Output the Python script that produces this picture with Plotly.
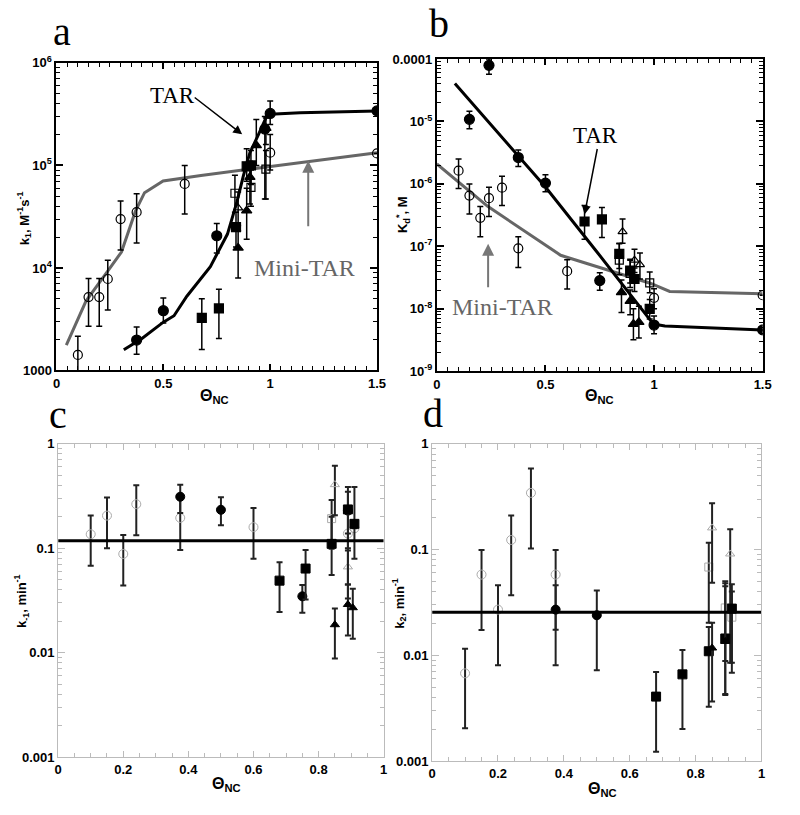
import plotly.graph_objects as go
import numpy as np

# ---------------- Panel a : k1 (M^-1 s^-1) ----------------
a_oc_x = [0.10, 0.15, 0.20, 0.24, 0.30, 0.375, 0.60, 1.00, 1.50]
a_oc_y = [1420, 5200, 5200, 7800, 30000, 35000, 66000, 133000, 131000]
a_oc_hi = [2160, 7900, 7900, 11900, 45000, 53000, 100000, 200000, 131000]
a_oc_lo = [950, 2700, 2700, 3900, 15000, 17500, 33500, 90000, 131000]

a_os_x = [0.835, 0.91, 0.98]
a_os_y = [53500, 61000, 92000]
a_os_hi = [80000, 90000, 140000]
a_os_lo = [35000, 40000, 47000]

a_ot_x = [0.85]
a_ot_y = [38500]
a_ot_hi = [55000]
a_ot_lo = [26000]

a_fc_x = [0.375, 0.50, 0.75, 0.975, 1.00, 1.50]
a_fc_y = [1980, 3830, 20600, 226000, 321000, 340000]
a_fc_hi = [2650, 5080, 27200, 300000, 425000, 340000]
a_fc_lo = [1440, 2910, 14000, 47000, 250000, 340000]

a_fs_x = [0.68, 0.76, 0.84, 0.89, 0.91]
a_fs_y = [3260, 4030, 25000, 98000, 100000]
a_fs_hi = [5000, 6200, 35000, 145000, 140000]
a_fs_lo = [1600, 2050, 16000, 70000, 65000]

a_ft_x = [0.85, 0.89, 0.905, 0.935, 0.98]
a_ft_y = [15700, 36200, 77000, 157000, 231000]
a_ft_hi = [23000, 60000, 110000, 280000, 290000]
a_ft_lo = [8000, 19000, 42000, 100000, 160000]

a_tar_x = [0.315, 0.40, 0.50, 0.55, 0.61, 0.72, 0.80, 0.845, 0.875, 0.905, 0.945, 0.98, 1.00, 1.14, 1.50]
a_tar_y = [1590, 2050, 2960, 3420, 5300, 10300, 21400, 44500, 80000, 133000, 200000, 290000, 316000, 326000, 340000]
a_mini_x = [0.046, 0.138, 0.243, 0.304, 0.369, 0.412, 0.499, 0.676, 0.983, 1.50]
a_mini_y = [1770, 4750, 9550, 14300, 35600, 54200, 70500, 79800, 96500, 133000]

# ---------------- Panel b : Kd* (M) ----------------
b_fc_x = [0.15, 0.24, 0.375, 0.50, 0.75, 1.00, 1.50]
b_fc_y = [1.08e-5, 7.9e-5, 2.64e-6, 1.03e-6, 2.83e-8, 5.5e-9, 4.6e-9]
b_fc_hi = [1.46e-5, 1.0e-4, 3.48e-6, 1.4e-6, 3.78e-8, 7.7e-9, 4.6e-9]
b_fc_lo = [7.6e-6, 5.7e-5, 1.89e-6, 7.5e-7, 1.98e-8, 4.0e-9, 4.6e-9]

b_fs_x = [0.68, 0.76, 0.84, 0.89, 0.91, 0.98]
b_fs_y = [2.5e-7, 2.7e-7, 7.6e-8, 4.1e-8, 3.0e-8, 1.0e-8]
b_fs_hi = [4.5e-7, 4.2e-7, 1.12e-7, 6.2e-8, 4.5e-8, 1.41e-8]
b_fs_lo = [1.3e-7, 1.39e-7, 4.4e-8, 2.6e-8, 1.9e-8, 6.9e-9]

b_ft_x = [0.85, 0.89, 0.905, 0.93]
b_ft_y = [1.84e-8, 1.33e-8, 5.7e-9, 6.1e-9]
b_ft_hi = [2.9e-8, 2.0e-8, 1.0e-8, 1.1e-8]
b_ft_lo = [8.7e-9, 8.0e-9, 3.2e-9, 3.4e-9]

b_oc_x = [0.10, 0.15, 0.20, 0.24, 0.30, 0.375, 0.60, 1.00, 1.50]
b_oc_y = [1.63e-6, 6.5e-7, 2.86e-7, 5.9e-7, 8.7e-7, 9.3e-8, 4.0e-8, 1.5e-8, 1.65e-8]
b_oc_hi = [2.5e-6, 1.0e-6, 4.35e-7, 8.85e-7, 1.33e-6, 1.42e-7, 6.1e-8, 2.1e-8, 1.65e-8]
b_oc_lo = [8.4e-7, 3.3e-7, 1.42e-7, 3.0e-7, 4.5e-7, 4.6e-8, 2.07e-8, 1.0e-8, 1.65e-8]

b_os_x = [0.84, 0.89, 0.98]
b_os_y = [6.0e-8, 3.7e-8, 2.6e-8]
b_os_hi = [1.1e-7, 6.0e-8, 3.9e-8]
b_os_lo = [3.5e-8, 2.2e-8, 1.8e-8]

b_ot_x = [0.855, 0.91, 0.935]
b_ot_y = [1.72e-7, 6.0e-8, 5.1e-8]
b_ot_hi = [2.75e-7, 9.0e-8, 7.8e-8]
b_ot_lo = [1.12e-7, 3.8e-8, 3.0e-8]

b_tar_x = [0.083, 0.50, 0.74, 0.997, 1.05, 1.50]
b_tar_y = [4.06e-5, 8.9e-7, 7.9e-8, 5.7e-9, 5.3e-9, 4.6e-9]
b_mini_x = [0.0, 0.234, 0.57, 0.982, 1.072, 1.50]
b_mini_y = [2.09e-6, 4.37e-7, 7.2e-8, 2.57e-8, 1.9e-8, 1.74e-8]

# ---------------- Panel c : k-1 (min^-1) ----------------
c_oc_x = [0.10, 0.15, 0.20, 0.24, 0.375, 0.60, 0.89, 0.91]
c_oc_y = [0.136, 0.205, 0.088, 0.264, 0.195, 0.159, 0.138, 0.155]
c_oc_hi = [0.205, 0.305, 0.134, 0.401, 0.30, 0.242, 0.138, 0.155]
c_oc_lo = [0.068, 0.100, 0.044, 0.133, 0.096, 0.079, 0.138, 0.155]

c_fc_x = [0.375, 0.50, 0.75, 0.89]
c_fc_y = [0.311, 0.233, 0.0346, 0.229]
c_fc_hi = [0.406, 0.307, 0.0445, 0.347]
c_fc_lo = [0.217, 0.166, 0.0241, 0.095]

c_fs_x = [0.68, 0.76, 0.84, 0.89, 0.91]
c_fs_y = [0.0489, 0.0638, 0.11, 0.235, 0.171]
c_fs_hi = [0.0732, 0.0962, 0.20, 0.386, 0.386]
c_fs_lo = [0.0245, 0.0322, 0.0553, 0.045, 0.079]

c_ft_x = [0.85, 0.89, 0.905]
c_ft_y = [0.0185, 0.0289, 0.0269]
c_ft_hi = [0.0265, 0.045, 0.0408]
c_ft_lo = [0.0088, 0.0146, 0.0136]

c_ot_x = [0.85, 0.89]
c_ot_y = [0.406, 0.0662]
c_ot_hi = [0.617, 0.10]
c_ot_lo = [0.207, 0.033]

c_os_x = [0.84]
c_os_y = [0.192]
c_os_hi = [0.29]
c_os_lo = [0.099]

c_fit = 0.118

# ---------------- Panel d : k2 (min^-1) ----------------
d_oc_x = [0.10, 0.15, 0.20, 0.24, 0.30, 0.375]
d_oc_y = [0.00674, 0.0579, 0.027, 0.123, 0.343, 0.0579]
d_oc_hi = [0.0115, 0.0988, 0.0458, 0.210, 0.582, 0.0988]
d_oc_lo = [0.00204, 0.0173, 0.00805, 0.037, 0.102, 0.0174]

d_fc_x = [0.375, 0.50]
d_fc_y = [0.027, 0.0239]
d_fc_hi = [0.0458, 0.0409]
d_fc_lo = [0.00805, 0.00719]

d_fs_x = [0.68, 0.76, 0.84, 0.89, 0.91]
d_fs_y = [0.00406, 0.00659, 0.0109, 0.0144, 0.0276]
d_fs_hi = [0.00693, 0.0112, 0.0185, 0.048, 0.0468]
d_fs_lo = [0.00122, 0.00201, 0.00326, 0.0042, 0.00684]

d_ft_x = [0.85, 0.89]
d_ft_y = [0.0117, 0.0135]
d_ft_hi = [0.0203, 0.045]
d_ft_lo = [0.00366, 0.0043]

d_ot_x = [0.85, 0.905]
d_ot_y = [0.160, 0.0907]
d_ot_hi = [0.273, 0.155]
d_ot_lo = [0.0485, 0.0085]

d_os_x = [0.84, 0.89, 0.91]
d_os_y = [0.0682, 0.028, 0.0229]
d_os_hi = [0.1155, 0.050, 0.040]
d_os_lo = [0.0203, 0.0088, 0.0085]

d_fit = 0.0255

SANS = "Liberation Sans, Arial, sans-serif"
SERIF = "Liberation Serif, Times New Roman, serif"
GRAY_LINE = "#666666"

fig = go.Figure()


def pts(x, y, hi, lo, xa, ya, symbol, size, color, lw=1.2, ecolor="black", ethick=1.5):
    y = np.array(y, dtype=float)
    up = np.array(hi, dtype=float) - y
    dn = y - np.array(lo, dtype=float)
    fig.add_trace(go.Scatter(
        x=x, y=y, mode="markers", xaxis=xa, yaxis=ya, showlegend=False,
        marker=dict(symbol=symbol, size=size, color=color, line=dict(width=lw, color=color)),
        error_y=dict(type="data", symmetric=False, array=up, arrayminus=dn,
                     color=ecolor, thickness=ethick, width=3),
    ))


def line(x, y, xa, ya, color, w=3):
    fig.add_trace(go.Scatter(x=x, y=y, mode="lines", xaxis=xa, yaxis=ya, showlegend=False,
                             line=dict(color=color, width=w)))


# panel a
line(a_mini_x, a_mini_y, "x", "y", GRAY_LINE)
line(a_tar_x, a_tar_y, "x", "y", "black")
pts(a_oc_x, a_oc_y, a_oc_hi, a_oc_lo, "x", "y", "circle-open", 9, "black")
pts(a_os_x, a_os_y, a_os_hi, a_os_lo, "x", "y", "square-open", 8, "black")
pts(a_ot_x, a_ot_y, a_ot_hi, a_ot_lo, "x", "y", "triangle-up-open", 8, "black")
pts(a_fc_x, a_fc_y, a_fc_hi, a_fc_lo, "x", "y", "circle", 10, "black")
pts(a_fs_x, a_fs_y, a_fs_hi, a_fs_lo, "x", "y", "square", 9, "black")
pts(a_ft_x, a_ft_y, a_ft_hi, a_ft_lo, "x", "y", "triangle-up", 9, "black")

# panel b
line(b_mini_x, b_mini_y, "x2", "y2", GRAY_LINE)
line(b_tar_x, b_tar_y, "x2", "y2", "black")
pts(b_oc_x, b_oc_y, b_oc_hi, b_oc_lo, "x2", "y2", "circle-open", 9, "black")
pts(b_os_x, b_os_y, b_os_hi, b_os_lo, "x2", "y2", "square-open", 8, "black")
pts(b_ot_x, b_ot_y, b_ot_hi, b_ot_lo, "x2", "y2", "triangle-up-open", 8, "black")
pts(b_fc_x, b_fc_y, b_fc_hi, b_fc_lo, "x2", "y2", "circle", 10, "black")
pts(b_fs_x, b_fs_y, b_fs_hi, b_fs_lo, "x2", "y2", "square", 9, "black")
pts(b_ft_x, b_ft_y, b_ft_hi, b_ft_lo, "x2", "y2", "triangle-up", 9, "black")

# panel c
LG = "#aaaaaa"
EC = "#222222"
pts(c_oc_x, c_oc_y, c_oc_hi, c_oc_lo, "x3", "y3", "circle-open", 9, LG, 1, EC, 2)
pts(c_os_x, c_os_y, c_os_hi, c_os_lo, "x3", "y3", "square-open", 8, LG, 1, EC, 2)
pts(c_ot_x, c_ot_y, c_ot_hi, c_ot_lo, "x3", "y3", "triangle-up-open", 8, LG, 1, EC, 2)
pts(c_fc_x, c_fc_y, c_fc_hi, c_fc_lo, "x3", "y3", "circle", 9, "black", 1, EC, 2)
pts(c_fs_x, c_fs_y, c_fs_hi, c_fs_lo, "x3", "y3", "square", 9, "black", 1, EC, 2)
pts(c_ft_x, c_ft_y, c_ft_hi, c_ft_lo, "x3", "y3", "triangle-up", 8, "black", 1, EC, 2)
line([0, 1], [c_fit, c_fit], "x3", "y3", "black", 3)

# panel d
pts(d_oc_x, d_oc_y, d_oc_hi, d_oc_lo, "x4", "y4", "circle-open", 9, LG, 1, EC, 2)
pts(d_os_x, d_os_y, d_os_hi, d_os_lo, "x4", "y4", "square-open", 8, LG, 1, EC, 2)
pts(d_ot_x, d_ot_y, d_ot_hi, d_ot_lo, "x4", "y4", "triangle-up-open", 8, LG, 1, EC, 2)
pts(d_fc_x, d_fc_y, d_fc_hi, d_fc_lo, "x4", "y4", "circle", 9, "black", 1, EC, 2)
pts(d_fs_x, d_fs_y, d_fs_hi, d_fs_lo, "x4", "y4", "square", 9, "black", 1, EC, 2)
pts(d_ft_x, d_ft_y, d_ft_hi, d_ft_lo, "x4", "y4", "triangle-up", 8, "black", 1, EC, 2)
line([0, 1], [d_fit, d_fit], "x4", "y4", "black", 3)

TICKFONT = dict(family=SANS, size=13, color="black", weight="bold")


def minor_log(e0, e1):
    return [m * 10.0 ** e for e in range(e0, e1) for m in range(2, 10)]


def xax(domain, anchor, rng, tickvals, ticktext, dark=True):
    c = "black" if dark else "#bbbbbb"
    return dict(domain=domain, anchor=anchor, range=rng, tickmode="array", tickvals=tickvals,
                ticktext=ticktext, ticks="inside", ticklen=6, tickwidth=1.5 if dark else 1,
                tickcolor=c, showline=True, linecolor=c, linewidth=2 if dark else 1,
                mirror="allticks", showgrid=False, zeroline=False, tickfont=TICKFONT,
                minor=dict(tickmode="linear", tick0=0, dtick=0.05,
                           ticks="inside", ticklen=4, tickcolor=c, tickwidth=1))


def yax(domain, anchor, rng, tickvals, ticktext, e0, e1, dark=True):
    c = "black" if dark else "#bbbbbb"
    return dict(domain=domain, anchor=anchor, type="log", range=rng, tickmode="array",
                tickvals=tickvals, ticktext=ticktext, ticks="inside", ticklen=7,
                tickwidth=1.5 if dark else 1, tickcolor=c, showline=True, linecolor=c,
                linewidth=2 if dark else 1, mirror="allticks", showgrid=False, zeroline=False,
                tickfont=TICKFONT,
                minor=dict(tickmode="array", tickvals=minor_log(e0, e1), ticks="inside",
                           ticklen=4, tickcolor=c, tickwidth=1))


fig.update_layout(
    width=800, height=815, margin=dict(l=0, r=0, t=0, b=0),
    paper_bgcolor="white", plot_bgcolor="white",
    xaxis=xax([0.0667, 0.474], "y", [0, 1.5], [0, 0.5, 1, 1.5], ["0", "0.5", "1", "1.5"]),
    yaxis=yax([0.547, 0.9325], "x", [3, 6], [1e3, 1e4, 1e5, 1e6],
              ["1000", "10<sup>4</sup>", "10<sup>5</sup>", "10<sup>6</sup>"], 3, 6),
    xaxis2=xax([0.55, 0.964], "y2", [0, 1.5], [0, 0.5, 1, 1.5], ["0", "0.5", "1", "1.5"]),
    yaxis2=yax([0.546, 0.9374], "x2", [-9, -4], [1e-9, 1e-8, 1e-7, 1e-6, 1e-5, 1e-4],
               ["10<sup>-9</sup>", "10<sup>-8</sup>", "10<sup>-7</sup>", "10<sup>-6</sup>",
                "10<sup>-5</sup>", "0.0001"], -9, -4),
    xaxis3=xax([0.0688, 0.4825], "y3", [0, 1], [0, 0.2, 0.4, 0.6, 0.8, 1],
               ["0", "0.2", "0.4", "0.6", "0.8", "1"], dark=False),
    yaxis3=yax([0.0626, 0.4552], "x3", [-3, 0], [0.001, 0.01, 0.1, 1],
               ["0.001", "0.01", "0.1", "1"], -3, 0, dark=False),
    xaxis4=xax([0.544, 0.9625], "y4", [0, 1], [0, 0.2, 0.4, 0.6, 0.8, 1],
               ["0", "0.2", "0.4", "0.6", "0.8", "1"], dark=False),
    yaxis4=yax([0.0577, 0.4552], "x4", [-3, 0], [0.001, 0.01, 0.1, 1],
               ["0.001", "0.01", "0.1", "1"], -3, 0, dark=False),
)

ann = []
# panel letters
for t, px, py in [("a", 59, 23), ("b", 442, 15), ("c", 55, 414), ("d", 436, 413)]:
    ann.append(dict(text=t, x=px / 800, y=1 - py / 815, xref="paper", yref="paper",
                    xanchor="center", yanchor="middle", showarrow=False,
                    font=dict(family=SERIF, size=40, color="black")))

LBL = dict(family=SANS, size=13, color="black", weight="bold")
THETA = "Θ<sub>NC</sub>"
for px, py in [(214, 396), (605, 396), (226, 792), (608, 797)]:
    ann.append(dict(text=THETA, x=px / 800, y=1 - py / 815, xref="paper", yref="paper",
                    xanchor="center", yanchor="middle", showarrow=False,
                    font=dict(family=SANS, size=16, color="black", weight="bold")))

ytitles = [("k<sub>1</sub>, M<sup>-1</sup>s<sup>-1</sup>", 20, 214),
           ("K<sub>d</sub><sup>*</sup>, M", 405, 210),
           ("k<sub>-1</sub>, min<sup>-1</sup>", 18, 605),
           ("k<sub>2</sub>, min<sup>-1</sup>", 402, 607)]
for t, px, py in ytitles:
    ann.append(dict(text=t, x=px / 800, y=1 - py / 815, xref="paper", yref="paper",
                    xanchor="center", yanchor="middle", showarrow=False, textangle=-90,
                    font=LBL))

# panel a annotations
ann.append(dict(text="TAR", x=0.542, y=5.68, xref="x", yref="y", showarrow=False,
                font=dict(family=SERIF, size=23, color="black")))
ann.append(dict(text="", x=0.869, y=5.303, xref="x", yref="y", ax=-49, ay=-38,
                showarrow=True, arrowhead=2, arrowsize=1.2, arrowwidth=1.5, arrowcolor="black"))
ann.append(dict(text="", x=1.178, y=5.046, xref="x", yref="y", ax=0, ay=67,
                showarrow=True, arrowhead=2, arrowsize=1.2, arrowwidth=2, arrowcolor="#777777"))
ann.append(dict(text="Mini-TAR", x=1.159, y=4.0, xref="x", yref="y", showarrow=False,
                font=dict(family=SERIF, size=24, color="#666666")))
# panel b annotations
ann.append(dict(text="TAR", x=0.7295, y=-5.22, xref="x2", yref="y2", showarrow=False,
                font=dict(family=SERIF, size=23, color="black")))
ann.append(dict(text="", x=0.68, y=-6.49, xref="x2", yref="y2", ax=13, ay=-67,
                showarrow=True, arrowhead=2, arrowsize=1.2, arrowwidth=1.5, arrowcolor="black"))
ann.append(dict(text="", x=0.236, y=-6.96, xref="x2", yref="y2", ax=0, ay=45,
                showarrow=True, arrowhead=2, arrowsize=1.2, arrowwidth=2, arrowcolor="#777777"))
ann.append(dict(text="Mini-TAR", x=0.3036, y=-7.97, xref="x2", yref="y2", showarrow=False,
                font=dict(family=SERIF, size=24, color="#666666")))

fig.update_layout(annotations=ann)
fig.write_html("out.html", config={"displayModeBar": False},
               post_script="document.body.style.margin='0px';")
